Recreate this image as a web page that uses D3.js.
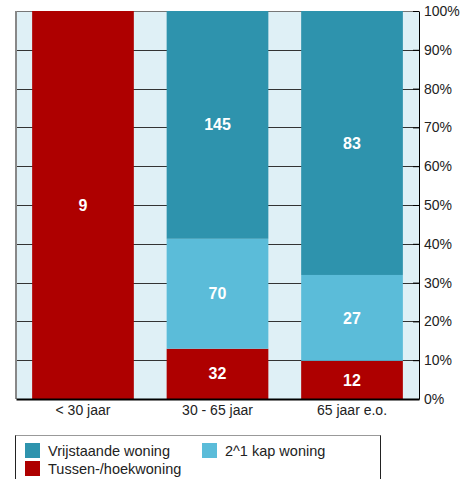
<!DOCTYPE html>
<html>
<head>
<meta charset="utf-8">
<script src="https://cdn.jsdelivr.net/npm/d3@7"></script>
<style>
  body { margin: 0; background: #fff; font-family: "Liberation Sans", Arial, sans-serif; }
</style>
</head>
<body>
<div id="chart"></div>
<script>
var categories = ["< 30 jaar", "30 - 65 jaar", "65 jaar e.o."];
var series = ["Tussen-/hoekwoning", "2^1 kap woning", "Vrijstaande woning"];
var tussen = [9, 32, 12];
var kap = [0, 70, 27];
var vrijstaand = [0, 145, 83];
var tickValues = [0, 0.1, 0.2, 0.3, 0.4, 0.5, 0.6, 0.7, 0.8, 0.9, 1];

var colors = {
    "Vrijstaande woning": "#2e93ad",
    "2^1 kap woning": "#5bbcd9",
    "Tussen-/hoekwoning": "#ae0000"
};

var margins = { top: 11, right: 42, bottom: 80, left: 16 },
    totalWidth = 461, totalHeight = 479,
    width = totalWidth - margins.left - margins.right,
    height = totalHeight - margins.top - margins.bottom;

var svg = d3.select("#chart")
    .append("svg")
    .attr("width", totalWidth)
    .attr("height", totalHeight);

var g = svg.append("g")
    .attr("transform", "translate(" + margins.left + "," + margins.top + ")");

// Build rows for stacking (shares of each age group)
var rows = categories.map(function (c, i) {
    var total = tussen[i] + kap[i] + vrijstaand[i];
    return {
        cat: c,
        "Tussen-/hoekwoning": tussen[i] / total,
        "2^1 kap woning": kap[i] / total,
        "Vrijstaande woning": vrijstaand[i] / total,
        raw: { "Tussen-/hoekwoning": tussen[i], "2^1 kap woning": kap[i], "Vrijstaande woning": vrijstaand[i] }
    };
});

var x = d3.scaleBand()
    .domain(categories)
    .range([0, width])
    .paddingInner(0.244)
    .paddingOuter(0.12);

var y = d3.scaleLinear()
    .domain([0, 1])
    .range([height, 0]);

// Plot background
g.append("rect")
    .attr("width", width)
    .attr("height", height)
    .attr("fill", "#dff0f6");

// Gridlines
g.append("g")
    .selectAll("line")
    .data(tickValues.slice(1, -1))
    .enter()
    .append("line")
    .attr("x1", 0)
    .attr("x2", width)
    .attr("y1", function (d) { return Math.round(y(d)) + 0.5; })
    .attr("y2", function (d) { return Math.round(y(d)) + 0.5; })
    .attr("stroke", "#333")
    .attr("stroke-width", 1);

// Top and left borders
g.append("line")
    .attr("x1", 0).attr("x2", width)
    .attr("y1", 0.5).attr("y2", 0.5)
    .attr("stroke", "#777");
g.append("line")
    .attr("x1", 0).attr("x2", 0)
    .attr("y1", 0).attr("y2", height)
    .attr("stroke", "#888")
    .attr("stroke-width", 2);

var stack = d3.stack().keys(series);
var stacked = stack(rows);

var layers = g.append("g")
    .selectAll("g")
    .data(stacked)
    .enter()
    .append("g")
    .attr("fill", function (d) { return colors[d.key]; });

layers.selectAll("rect")
    .data(function (d) { return d; })
    .enter()
    .append("rect")
    .attr("x", function (d) { return x(d.data.cat); })
    .attr("width", x.bandwidth())
    .attr("y", function (d) { return y(d[1]); })
    .attr("height", function (d) { return y(d[0]) - y(d[1]); });

// Segment labels
stacked.forEach(function (layer) {
    g.append("g")
        .selectAll("text")
        .data(layer.filter(function (d) { return d[1] - d[0] > 0; }))
        .enter()
        .append("text")
        .attr("x", function (d) { return x(d.data.cat) + x.bandwidth() / 2; })
        .attr("y", function (d) { return (y(d[0]) + y(d[1])) / 2; })
        .attr("dy", "0.35em")
        .attr("text-anchor", "middle")
        .attr("fill", "#fff")
        .style("font-size", "16px")
        .style("font-weight", "bold")
        .text(function (d) { return d.data.raw[layer.key]; });
});

// Right axis
var rightAxis = g.append("g")
    .attr("transform", "translate(" + width + ",0)")
    .call(d3.axisRight(y)
        .tickValues(tickValues)
        .tickSize(0)
        .tickPadding(5)
        .tickFormat(d3.format(".0%")));
rightAxis.select(".domain").attr("stroke", "#000");
rightAxis.selectAll("text")
    .style("font-size", "14px")
    .style("font-family", "Liberation Sans, Arial, sans-serif")
    .attr("fill", "#222");
rightAxis.selectAll(".tick")
    .append("line")
    .attr("x1", -6).attr("x2", 0)
    .attr("stroke", "#000");

// Bottom axis
var bottomAxis = g.append("g")
    .attr("transform", "translate(0," + height + ")")
    .call(d3.axisBottom(x).tickSize(0).tickPadding(6));
bottomAxis.select(".domain")
    .attr("stroke", "#000")
    .attr("stroke-width", 2);
bottomAxis.selectAll("text")
    .style("font-size", "14px")
    .style("font-family", "Liberation Sans, Arial, sans-serif")
    .attr("fill", "#222");

// Legend
var legend = svg.append("g")
    .attr("transform", "translate(15.5,435.5)");
legend.append("rect")
    .attr("width", 365)
    .attr("height", 60)
    .attr("fill", "#fff")
    .attr("stroke", "#222");
legend.append("line")
    .attr("x1", 0).attr("x2", 365)
    .attr("y1", 0).attr("y2", 0)
    .attr("stroke", "#999");

var legendItems = [
    { key: "Vrijstaande woning", col: 0, row: 0 },
    { key: "2^1 kap woning", col: 1, row: 0 },
    { key: "Tussen-/hoekwoning", col: 0, row: 1 }
];

var item = legend.selectAll(".item")
    .data(legendItems)
    .enter()
    .append("g")
    .attr("class", "item")
    .attr("transform", function (d) {
        return "translate(" + (9.5 + d.col * 177) + "," + (7.5 + d.row * 18) + ")";
    });
item.append("rect")
    .attr("width", 15)
    .attr("height", 15)
    .attr("fill", function (d) { return colors[d.key]; });
item.append("text")
    .attr("x", 23)
    .attr("y", 7.5)
    .attr("dy", "0.35em")
    .style("font-size", "14.5px")
    .attr("fill", "#222")
    .text(function (d) { return d.key; });
</script>
</body>
</html>
